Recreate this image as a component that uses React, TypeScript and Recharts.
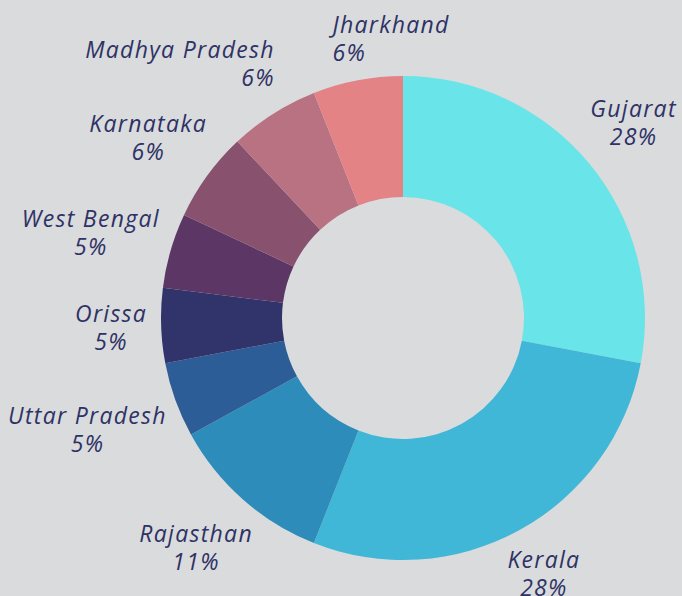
import React from 'react';
import { PieChart, Pie, Cell } from 'recharts';

// state-wise share, clockwise from 12 o'clock
const states = ['Gujarat', 'Kerala', 'Rajasthan', 'Uttar Pradesh', 'Orissa', 'West Bengal', 'Karnataka', 'Madhya Pradesh', 'Jharkhand'];
const shares = [28, 28, 11, 5, 5, 5, 6, 6, 6];
const colors = ['#69e4e8', '#40b7d6', '#2d8cb9', '#2c5d96', '#30346b', '#5c3766', '#88526f', '#b87282', '#e38385'];

const data = states.map((name, i) => ({ name, value: shares[i] }));

const FONT = 'italic 23px "Open Sans"';
const SPACING = 1.3;
const TEXT = '#2e3265';
const RAD = Math.PI / 180;

let ctx: CanvasRenderingContext2D | null = null;
const measure = (s: string) => {
  if (!ctx) ctx = document.createElement('canvas').getContext('2d');
  if (!ctx) return s.length * 13;
  ctx.font = FONT;
  return ctx.measureText(s).width + SPACING * s.length;
};

// labels the original layout pushed around
const nudge: Record<string, { dx: number; dy: number; anchor?: 'start' | 'end' }> = {
  Jharkhand: { dx: 47, dy: 22, anchor: 'start' },
  'Madhya Pradesh': { dx: -35, dy: 4, anchor: 'end' },
  Kerala: { dx: 0, dy: -12 },
  'Uttar Pradesh': { dx: 0, dy: 8 },
};

const renderLabel = (props: any) => {
  const { cx, cy, midAngle, name, value } = props;
  const cos = Math.cos(-midAngle * RAD);
  const sin = Math.sin(-midAngle * RAD);
  const w = measure(name);
  let x = cx + (256 + w / 2) * cos;
  let y = cy + 306 * sin;
  let anchor: 'start' | 'middle' | 'end' = 'middle';
  const n = nudge[name];
  if (n) {
    x += n.dx;
    y += n.dy;
    if (n.anchor) {
      anchor = n.anchor;
      x = anchor === 'start' ? x - w / 2 : x + w / 2;
    }
  }
  return (
    <text x={x} y={y - 6} textAnchor={anchor} fill={TEXT} style={{ font: FONT, letterSpacing: SPACING }}>
      <tspan x={x} dy={0}>{name}</tspan>
      <tspan x={x} dy={28}>{value}%</tspan>
    </text>
  );
};

export default function App() {
  return (
    <div style={{ position: 'absolute', left: 0, top: 0, width: 682, height: 596, background: '#dadbdd' }}>
      <PieChart width={682} height={596} margin={{ top: 0, right: 0, bottom: 0, left: 0 }}>
        <Pie
          data={data}
          dataKey="value"
          nameKey="name"
          cx={403}
          cy={318}
          innerRadius={121}
          outerRadius={242}
          startAngle={90}
          endAngle={-270}
          stroke="none"
          label={renderLabel}
          labelLine={false}
          isAnimationActive={false}
        >
          {data.map((d, i) => (
            <Cell key={d.name} fill={colors[i]} />
          ))}
        </Pie>
      </PieChart>
    </div>
  );
}
